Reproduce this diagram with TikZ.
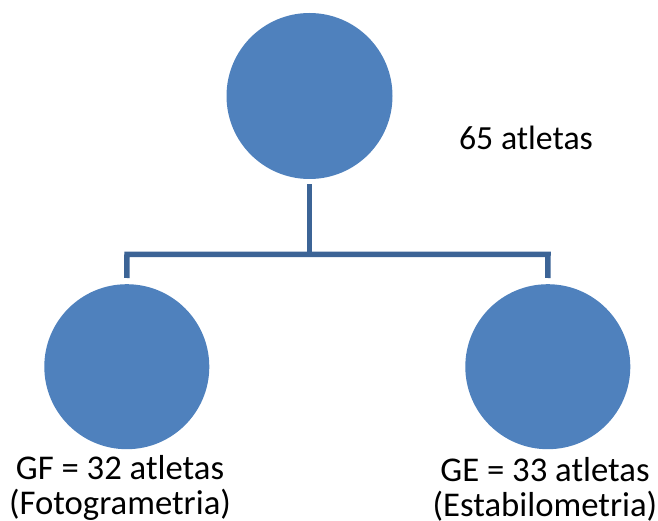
\documentclass[tikz,border=0pt]{standalone}
\usepackage{fontspec}
\setmainfont{Carlito}
\definecolor{circblue}{RGB}{79,129,189}
\definecolor{lineblue}{RGB}{60,100,150}
\begin{document}
\begin{tikzpicture}[x=1pt,y=-1pt,
  bubble/.style={circle,fill=circblue,inner sep=0pt,draw=none},
  conn/.style={draw=lineblue,line width=5.5pt,line join=miter},
  lbl/.style={font=\fontsize{34.7}{40}\selectfont,inner sep=0pt,anchor=base,text=black}]
\useasboundingbox (0,0) rectangle (658,521);
\node[bubble,minimum size=166pt] (top) at (309.5,96) {};
\node[bubble,minimum size=165pt] (left) at (126.8,366.7) {};
\node[bubble,minimum size=165pt] (right) at (547.8,366.7) {};
\coordinate (j) at (309.5,254.5);
\coordinate (lj) at (127,254.5);
\coordinate (rj) at (548,254.5);
\draw[conn] ([yshift=-5pt]top.south) -- (j);
\draw[conn] ([yshift=6pt]left.north) -- (lj) -- (rj) -- ([yshift=6pt]right.north);
\node[lbl,font=\fontsize{33.8}{40}\selectfont] (n65) at (526,149.3) {65 atletas};
\node[lbl] (gf1) at (120,479) {GF = 32 atletas};
\node[lbl] (gf2) at (120,514) {(Fotogrametria)};
\node[lbl] (ge1) at (545,481) {GE = 33 atletas};
\node[lbl] (ge2) at (545,516) {(Estabilometria)};
\end{tikzpicture}
\end{document}
